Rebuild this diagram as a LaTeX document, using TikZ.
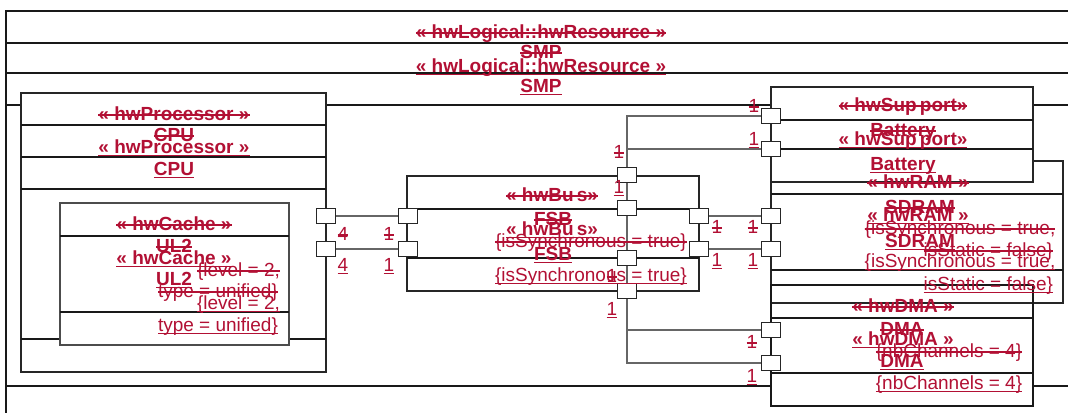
\documentclass[tikz,border=0pt]{standalone}
\usepackage{fontspec}
\setmainfont{Liberation Sans}
\usetikzlibrary{calc}
\definecolor{umlred}{RGB}{178,16,52}
\newcommand\txtA[4]{\node[txt,#1] (#2) at (#3) {#4};
  \draw[redln] ($(#2.base west)+(0,-5)$) -- ($(#2.base east)+(0,-5)$);}
\newcommand\txtB[4]{\node[txt,#1] (#2) at (#3) {#4};
  \draw[redln] ($(#2.base west)+(0,2.5)$) -- ($(#2.base east)+(0,2.5)$);}
\begin{document}
\begin{tikzpicture}[x=1pt,y=-1pt,
  frm/.style={draw=black!90,line width=1.4pt},
  box/.style={draw=black!85,line width=1.3pt,fill=white,inner sep=0pt,outer sep=0pt,anchor=north west},
  sep/.style={draw=black!90,line width=1.3pt},
  conn/.style={draw=black!60,line width=1.3pt},
  port/.style={draw=black!85,line width=1.2pt,fill=white,minimum width=19pt,minimum height=15pt,inner sep=0pt,outer sep=0pt},
  txt/.style={text=umlred,inner sep=0pt,outer sep=0pt,anchor=base,font=\fontsize{19}{22}\selectfont},
  bf/.style={font=\fontsize{19}{22}\selectfont\bfseries},
  rg/.style={},
  redln/.style={draw=umlred,line width=1.8pt}]
\useasboundingbox (0,0) rectangle (1068,413);
\clip (0,0) rectangle (1068,413);
% outer hwLogical frame
\draw[frm] (1068,11) -- (6,11) -- (6,413);
\foreach \y in {43,73,105,386} \draw[frm] (6,\y) -- (1068,\y);
% CPU
\node[box,minimum width=305pt,minimum height=279pt] (cpu) at (21,93) {};
\foreach \y in {125,157,189,339} \draw[sep] (21,\y) -- (326,\y);
% cache
\node[box,draw=black!70,minimum width=229pt,minimum height=142pt] (cache) at (60,203) {};
\foreach \y in {236,312} \draw[sep] (60,\y) -- (289,\y);
% bus
\node[box,minimum width=292pt,minimum height=115pt] (bus) at (407,176) {};
\foreach \y in {209,258} \draw[sep] (407,\y) -- (699,\y);
% DMA (fill)
\node[box,minimum width=262pt,minimum height=121pt] (dma) at (771,285) {};
% RAM
\node[box,minimum width=292pt,minimum height=142pt] (ram) at (771,161) {};
\foreach \y in {194,270} \draw[sep] (771,\y) -- (1063,\y);
% Battery
\node[box,minimum width=262pt,minimum height=95pt] (bat) at (771,87) {};
\foreach \y in {120,149} \draw[sep] (771,\y) -- (1033,\y);
% DMA outline again
\draw[sep] (dma.north west) rectangle (dma.south east);
\foreach \y in {318,373} \draw[sep] (771,\y) -- (1033,\y);
% ports
\node[port] (pCpuA) at (326,216) {};
\node[port] (pCpuB) at (326,249) {};
\node[port] (pBlA) at (408,216) {};
\node[port] (pBlB) at (408,249) {};
\node[port] (pBrA) at (699,216) {};
\node[port] (pBrB) at (699,249) {};
\node[port] (pBtA) at (627,175) {};
\node[port] (pBtB) at (627,208) {};
\node[port] (pBbA) at (627,258) {};
\node[port] (pBbB) at (627,291) {};
\node[port] (pBatA) at (771,116) {};
\node[port] (pBatB) at (771,149) {};
\node[port] (pRamA) at (771,216) {};
\node[port] (pRamB) at (771,249) {};
\node[port] (pDmaA) at (771,330) {};
\node[port] (pDmaB) at (771,363) {};
% connectors
\begin{scope}[on background layer/.style={}]
\draw[conn] (pCpuA) -- (pBlA);
\draw[conn] (pCpuB) -- (pBlB);
\draw[conn] (pBrA) -- (pRamA);
\draw[conn] (pBrB) -- (pRamB);
\draw[conn] (pBatA) -| (pBtA);
\draw[conn] (pBatB) -| (pBtB);
\draw[conn] (pBtB) -- (pBbA);
\draw[conn] (pBbA) |- (pDmaA);
\draw[conn] (pBbB) |- (pDmaB);
\end{scope}
% redraw ports on top
\foreach \p in {pCpuA,pCpuB,pBlA,pBlB,pBrA,pBrB,pBtA,pBtB,pBbA,pBbB,pBatA,pBatB,pRamA,pRamB,pDmaA,pDmaB}
  \draw[draw=black!85,line width=1.2pt,fill=white] (\p.north west) rectangle (\p.south east);
% texts: logical resource
\txtA{bf}{tTitA}{541,38}{« hwLogical::hwResource »}
\txtB{bf}{tTitB}{541,72}{« hwLogical::hwResource »}
\txtA{bf}{tSmpA}{541,58}{SMP}
\txtB{bf}{tSmpB}{541,92}{SMP}
% CPU
\txtA{bf}{tProA}{174,120}{« hwProcessor »}
\txtB{bf}{tProB}{174,153}{« hwProcessor »}
\txtA{bf}{tCpuA}{174,141}{CPU}
\txtB{bf}{tCpuB}{174,175}{CPU}
% cache
\txtA{bf}{tCacA}{174,230}{« hwCache »}
\txtB{bf}{tCacB}{174,264}{« hwCache »}
\txtA{bf}{tUlA}{174,252}{UL2}
\txtB{bf}{tUlB}{174,285}{UL2}
\txtA{anchor=base west}{tLevA}{197,276}{\{level = 2,}
\txtB{anchor=base west}{tLevB}{197,309}{\{level = 2,}
\txtA{anchor=base west}{tTypA}{158,297}{type = unified\}}
\txtB{anchor=base west}{tTypB}{158,331}{type = unified\}}
% bus
\txtA{bf}{tBusA}{552,201}{« hwBu\,s»}
\txtB{bf}{tBusB}{552,235}{« hwBu\,s»}
\txtA{bf}{tFsbA}{553,225}{FSB}
\txtB{bf}{tFsbB}{553,260}{FSB}
\txtA{}{tSynA}{591,247}{\{isSynchronous = true\}}
\txtB{}{tSynB}{591,281}{\{isSynchronous = true\}}
% RAM
\txtA{bf}{tRamA}{918,188}{« hwRAM »}
\txtB{bf}{tRamB}{918,221}{« hwRAM »}
\txtA{bf}{tSdA}{920,213}{SDRAM}
\txtB{bf}{tSdB}{920,247}{SDRAM}
\txtA{}{tRsA}{960,234}{\{isSynchronous = true,}
\txtB{}{tRsB}{960,267}{\{isSynchronous = true,}
\txtA{anchor=base east}{tStA}{1053,256}{isStatic = false\}}
\txtB{anchor=base east}{tStB}{1053,290}{isStatic = false\}}
% battery
\txtA{bf}{tSupA}{903,111}{« hwSup\,port»}
\txtB{bf}{tSupB}{903,145}{« hwSup\,port»}
\txtA{bf}{tBatA}{903,136}{Battery}
\txtB{bf}{tBatB}{903,170}{Battery}
% DMA
\txtA{bf}{tDmsA}{903,312}{« hwDMA »}
\txtB{bf}{tDmsB}{903,345}{« hwDMA »}
\txtA{bf}{tDmaA}{902,335}{DMA}
\txtB{bf}{tDmaB}{902,367}{DMA}
\txtA{}{tNbA}{949,357}{\{nbChannels = 4\}}
\txtB{}{tNbB}{949,389}{\{nbChannels = 4\}}
% multiplicities
\txtA{}{l4A}{343,240}{4}
\txtB{}{l4B}{343,271}{4}
\txtA{}{l1A}{389,240}{1}
\txtB{}{l1B}{389,271}{1}
\txtA{}{lBtA}{619,158}{1}
\txtB{}{lBtB}{619,193}{1}
\txtA{}{lBbA}{612,282}{1}
\txtB{}{lBbB}{612,315}{1}
\txtA{}{lBrA}{717,233}{1}
\txtB{}{lBrB}{717,266}{1}
\txtA{}{lRaA}{753,233}{1}
\txtB{}{lRaB}{753,266}{1}
\txtA{}{lBaA}{754,112}{1}
\txtB{}{lBaB}{754,145}{1}
\txtA{}{lDaA}{752,348}{1}
\txtB{}{lDaB}{752,382}{1}
\end{tikzpicture}
\end{document}
